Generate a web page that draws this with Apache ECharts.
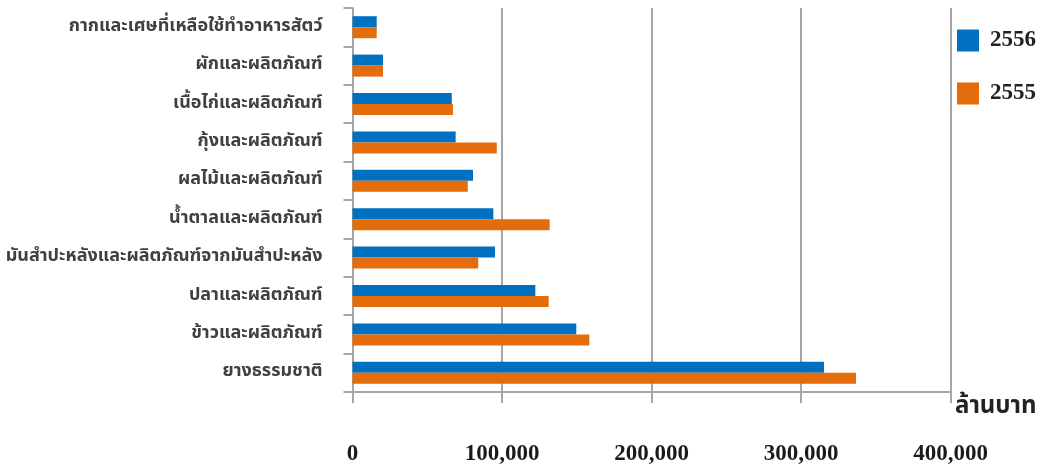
<!DOCTYPE html>
<html>
<head>
<meta charset="utf-8">
<script src="https://cdn.jsdelivr.net/npm/echarts@6/dist/echarts.min.js"></script>
<style>html,body{margin:0;padding:0;background:#fff;}#c{width:1040px;height:469px;}</style>
</head>
<body>
<div id="c"></div>
<script>
const categories = [
  'ยางธรรมชาติ',
  'ข้าวและผลิตภัณฑ์',
  'ปลาและผลิตภัณฑ์',
  'มันสำปะหลังและผลิตภัณฑ์จากมันสำปะหลัง',
  'น้ำตาลและผลิตภัณฑ์',
  'ผลไม้และผลิตภัณฑ์',
  'กุ้งและผลิตภัณฑ์',
  'เนื้อไก่และผลิตภัณฑ์',
  'ผักและผลิตภัณฑ์',
  'กากและเศษที่เหลือใช้ทำอาหารสัตว์'
];
const values2556 = [315400, 149700, 122300, 95300, 94200, 80600, 69000, 66400, 20400, 16200];
const values2555 = [336800, 158400, 131200, 84100, 131900, 77100, 96500, 67200, 20400, 16200];
const seriesNames = ['2556', '2555'];
const xTicks = [0, 100000, 200000, 300000, 400000];
const unitLabel = 'ล้านบาท';

const axisGray = '#A6A6A6';
const chart = echarts.init(document.getElementById('c'));
chart.setOption({
  animation: false,
  grid: { left: 352.5, right: 89.5, top: 8, bottom: 77, containLabel: false },
  legend: {
    orient: 'vertical', left: 957, top: 29, padding: 0,
    itemWidth: 22, itemHeight: 22, itemGap: 30, icon: 'rect',
    data: seriesNames,
    textStyle: { fontFamily: 'Liberation Serif', fontWeight: 'bold', fontSize: 23, color: '#222', padding: [0, 0, 0, 6] }
  },
  xAxis: {
    type: 'value', min: xTicks[0], max: xTicks[xTicks.length - 1], interval: 100000,
    axisLine: { show: true, lineStyle: { color: axisGray, width: 2 } },
    axisTick: { show: true, length: 11, lineStyle: { color: axisGray, width: 2 } },
    splitLine: { show: true, lineStyle: { color: axisGray, width: 2 } },
    axisLabel: {
      margin: 51, fontFamily: 'Liberation Serif', fontWeight: 'bold', fontSize: 23, color: '#1a1a1a',
      formatter: v => v.toLocaleString('en-US')
    }
  },
  yAxis: {
    type: 'category', data: categories,
    axisLine: { show: true, lineStyle: { color: axisGray, width: 2 } },
    axisTick: { show: true, length: 9, lineStyle: { color: axisGray, width: 2 } },
    axisLabel: { margin: 30, fontFamily: 'Noto Sans Thai, DejaVu Sans, sans-serif', fontWeight: 'bold', fontSize: 18, color: '#404040' }
  },
  graphic: [{
    type: 'text', left: 955, top: 396,
    style: { text: unitLabel, fontFamily: 'Noto Sans Thai, DejaVu Sans, sans-serif', fontWeight: 'bold', fontSize: 24, fill: '#222' }
  }],
  series: [
    { name: seriesNames[0], type: 'bar', data: values2556, barWidth: 11, barGap: '0%', itemStyle: { color: '#0070C0' } },
    { name: seriesNames[1], type: 'bar', data: values2555, barWidth: 11, barGap: '0%', itemStyle: { color: '#E46C0A' } }
  ]
});
</script>
</body>
</html>
